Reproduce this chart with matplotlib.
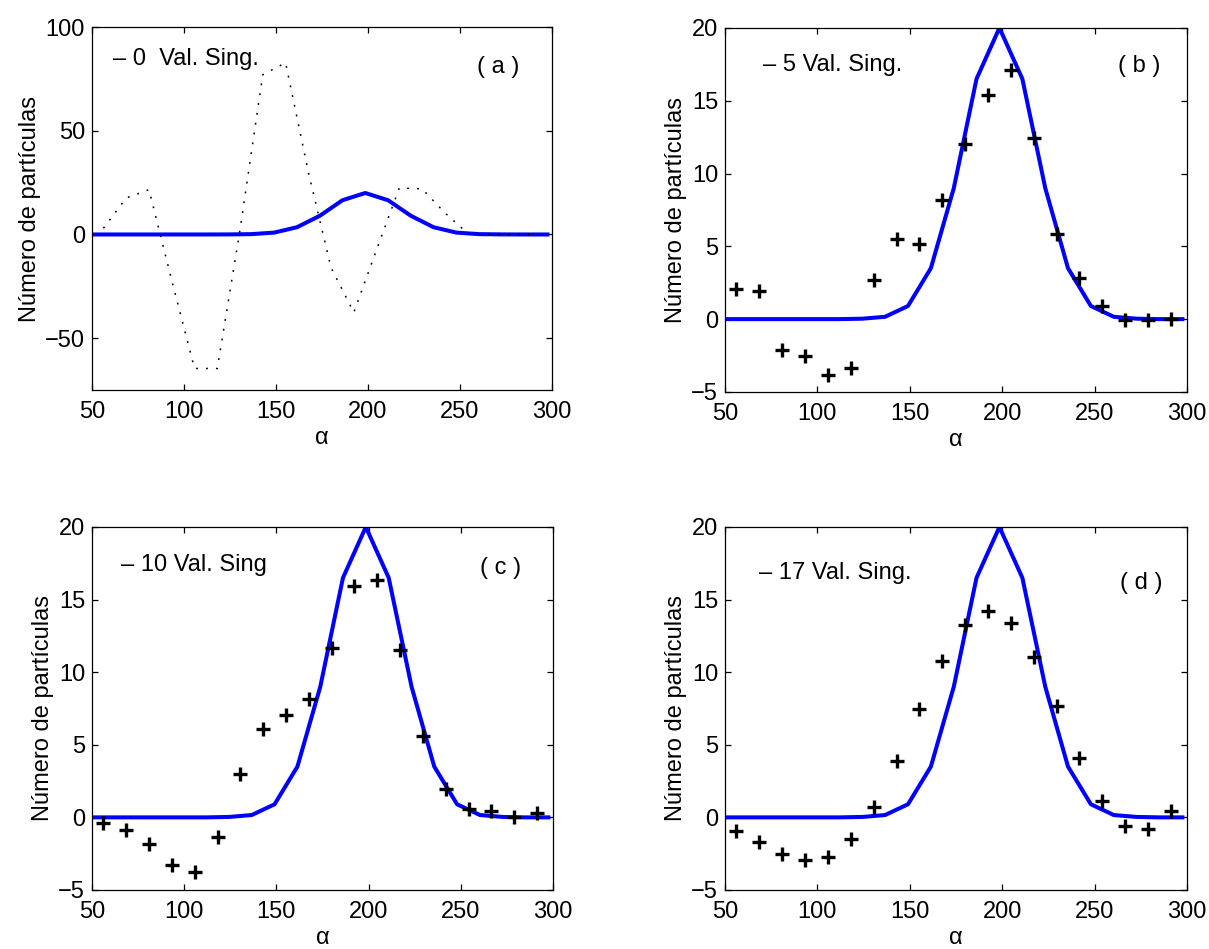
import matplotlib
matplotlib.use("Agg")
import matplotlib.pyplot as plt

plt.rcParams['font.family'] = ['Liberation Sans', 'DejaVu Sans']
plt.rcParams['font.size'] = 17

# x positions of the reference curve and of the reconstructed points
alpha_curve = [50.0, 62.4, 74.8, 87.1, 99.5, 111.9, 124.3, 136.6, 149.0, 161.4, 173.8,
               186.1, 198.5, 210.9, 223.3, 235.6, 248.0, 260.4, 272.8, 285.1, 297.5]
alpha_pts = [56.2, 68.6, 81.0, 93.3, 105.7, 118.1, 130.4, 142.8, 155.2, 167.6,
             179.9, 192.3, 204.7, 217.0, 229.4, 241.8, 254.2, 266.5, 278.9, 291.3]

# original distribution (blue line)
original = [0, 0, 0, 0, 0, 0, 0.03, 0.16, 0.9, 3.5, 9.0,
            16.5, 20.0, 16.5, 9.0, 3.5, 0.9, 0.16, 0.03, 0, 0]

# reconstructions
recon_0 = [3.0, 17.6, 21.6, -22.0, -64.6, -64.6, 2.0, 77.0, 82.8, 30.0,
           -16.0, -37.6, -7.2, 22.4, 22.0, 10.4, 0.5, 0, 0, 0]
recon_5 = [2.07, 1.95, -2.13, -2.52, -3.81, -3.33, 2.69, 5.47, 5.17, 8.16,
           12.0, 15.4, 17.1, 12.46, 5.82, 2.85, 0.87, -0.05, -0.05, 0.0]
recon_10 = [-0.4, -0.87, -1.86, -3.3, -3.73, -1.33, 2.97, 6.09, 7.05, 8.15,
            11.68, 15.92, 16.38, 11.52, 5.63, 1.97, 0.57, 0.46, 0.06, 0.33]
recon_17 = [-0.97, -1.73, -2.51, -2.97, -2.74, -1.5, 0.71, 3.85, 7.44, 10.77,
            13.24, 14.2, 13.4, 11.06, 7.7, 4.12, 1.15, -0.58, -0.78, 0.41]

labels = ["\u2013 0  Val. Sing.", "\u2013 5 Val. Sing.", "\u2013 10 Val. Sing", "\u2013 17 Val. Sing."]
letters = ["( a )", "( b )", "( c )", "( d )"]


def style_axes(ax):
    ax.set_xlim(50, 300)
    ax.set_xticks([50, 100, 150, 200, 250, 300])
    ax.tick_params(direction='in', top=True, right=True, length=4, width=0.9,
                   labelsize=17)
    ax.tick_params(axis='x', pad=8)
    ax.tick_params(axis='y', pad=5)
    for s in ax.spines.values():
        s.set_linewidth(0.9)
    ax.set_xlabel("\u03b1", fontsize=17, labelpad=3)
    ax.set_ylabel("Número de partículas", fontsize=17, labelpad=3)


fig = plt.figure(figsize=(12.09, 9.49), dpi=100)

ax_a = fig.add_axes([0.0761, 0.589, 0.3805, 0.3825])
ax_b = fig.add_axes([0.5997, 0.587, 0.3821, 0.3836])
ax_c = fig.add_axes([0.0761, 0.0622, 0.3813, 0.3825])
ax_d = fig.add_axes([0.5997, 0.0622, 0.3821, 0.3825])

# (a) no singular values: dotted reconstruction
ax_a.plot(alpha_curve, original, color='#0000ff', lw=2.9)
ax_a.plot(alpha_pts, recon_0, color='black', lw=1.1, linestyle=(0, (1.2, 5.3)))
style_axes(ax_a)
ax_a.set_ylim(-75, 100)
ax_a.set_yticks([-50, 0, 50, 100])

# (b), (c), (d) points
for ax, rec in [(ax_b, recon_5), (ax_c, recon_10), (ax_d, recon_17)]:
    ax.plot(alpha_curve, original, color='#0000ff', lw=2.9)
    ax.plot(alpha_pts, rec, linestyle='none', marker='+', color='black',
            markersize=10, markeredgewidth=2.4)
    style_axes(ax)
    ax.set_ylim(-5, 20)
    ax.set_yticks([-5, 0, 5, 10, 15, 20])

label_pos = [(0.046, 0.911), (0.0815, 0.898), (0.063, 0.895), (0.074, 0.872)]
letter_pos = [(0.836, 0.89), (0.85, 0.894), (0.841, 0.886), (0.855, 0.845)]

for ax, lab, let, lp, tp in zip([ax_a, ax_b, ax_c, ax_d], labels, letters, label_pos, letter_pos):
    ax.text(lp[0], lp[1], lab, transform=ax.transAxes, ha='left', va='center', fontsize=17)
    ax.text(tp[0], tp[1], let, transform=ax.transAxes, ha='left', va='center', fontsize=17)

fig.savefig("out.png", dpi=100)
